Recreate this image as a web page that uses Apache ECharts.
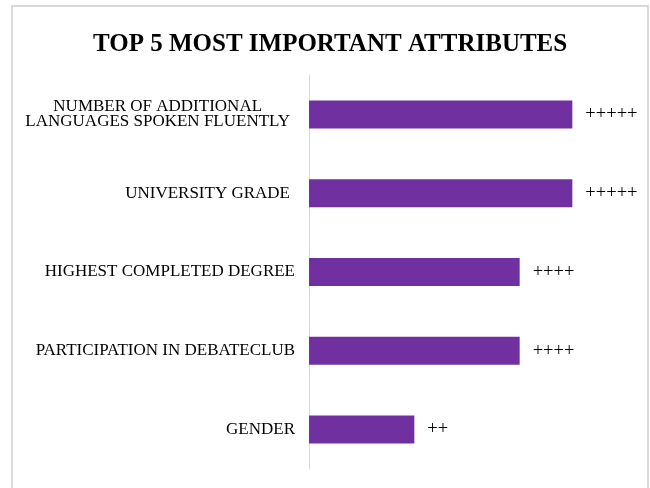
<!DOCTYPE html>
<html>
<head>
<meta charset="utf-8">
<script src="https://cdn.jsdelivr.net/npm/echarts@6/dist/echarts.min.js"></script>
<style>
html,body{margin:0;padding:0;background:#fff;}
#chart{width:650px;height:488px;}
</style>
</head>
<body>
<div id="chart"></div>
<script>
const categories = [
  'NUMBER OF ADDITIONAL\nLANGUAGES SPOKEN FLUENTLY',
  'UNIVERSITY GRADE',
  'HIGHEST COMPLETED DEGREE',
  'PARTICIPATION IN DEBATECLUB',
  'GENDER'
];
const values = [5, 5, 4, 4, 2];
const valueLabels = ['+++++', '+++++', '++++', '++++', '++'];
const titleText = 'TOP 5 MOST IMPORTANT ATTRIBUTES';

const chart = echarts.init(document.getElementById('chart'), null, {renderer: 'canvas'});
const serif = '"Liberation Serif", "Times New Roman", serif';

chart.setOption({
  backgroundColor: '#fff',
  animation: false,
  title: {
    text: titleText,
    left: 88,
    top: 27,
    textStyle: {fontFamily: serif, fontWeight: 'bold', fontSize: 25, color: '#000'}
  },
  graphic: [{
    type: 'rect',
    shape: {x: 12, y: 6, width: 636, height: 520},
    style: {fill: 'none', stroke: '#d9d9d9', lineWidth: 2},
    silent: true,
    z: -1
  }],
  grid: {left: 309, top: 75, height: 394, width: 316, containLabel: false},
  xAxis: {
    type: 'value', min: 0, max: 6, show: false
  },
  yAxis: {
    type: 'category',
    inverse: true,
    data: categories,
    axisLine: {show: true, lineStyle: {color: '#d9d9d9', width: 1}},
    axisTick: {show: false},
    axisLabel: {
      margin: 14,
      color: '#000',
      fontFamily: serif,
      fontSize: 17,
      lineHeight: 15,
      formatter: function (v) {
        const lines = v.split('\n');
        if (lines.length > 1) {
          return lines.map(l => '{c|' + l + '}').join('\n');
        }
        if (v === 'UNIVERSITY GRADE') return '{p|' + v + '}';
        return v;
      },
      rich: {
        c: {align: 'center', fontFamily: serif, fontSize: 17, lineHeight: 15, color: '#000', padding: [0, 5, 0, 0]},
        p: {fontFamily: serif, fontSize: 17, color: '#000', padding: [0, 5, 0, 0]}
      }
    }
  },
  series: [{
    type: 'bar',
    data: values,
    barWidth: 28,
    itemStyle: {color: '#7030A0'},
    label: {
      show: true,
      position: 'right',
      distance: 13,
      color: '#000',
      fontFamily: serif,
      fontSize: 18.5,
      formatter: function (p) { return valueLabels[p.dataIndex]; }
    }
  }]
});
</script>
</body>
</html>
